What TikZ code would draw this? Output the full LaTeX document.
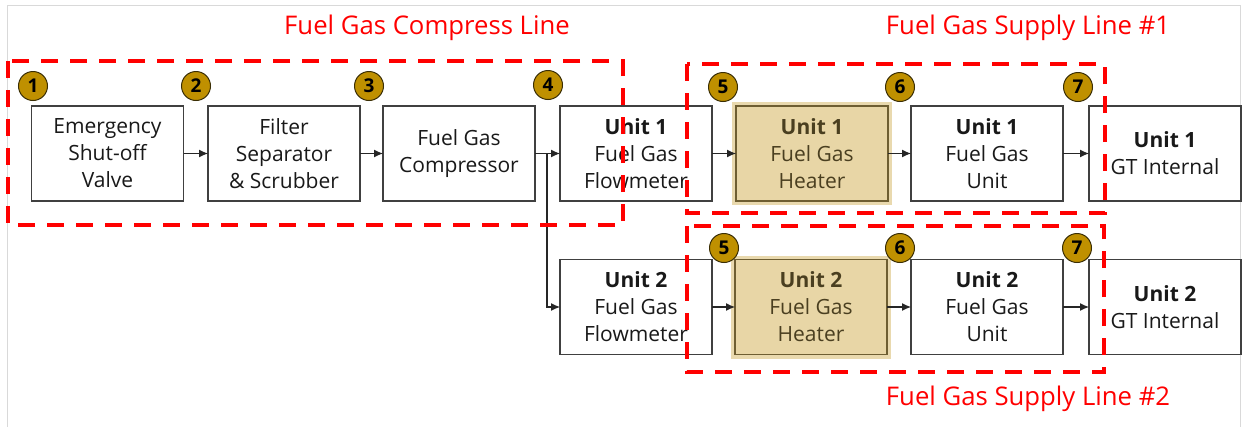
\documentclass[tikz,border=0pt]{standalone}
\usepackage{fontspec}
\setmainfont{Open Sans}
\usetikzlibrary{arrows.meta}
\definecolor{gold}{HTML}{BF9000}
\definecolor{goldline}{HTML}{3A2E05}
\definecolor{tan}{HTML}{E8D6A6}
\definecolor{glow}{HTML}{E9D9AE}
\definecolor{olive}{HTML}{6E5E32}
\definecolor{olivetext}{HTML}{4A3F20}
\definecolor{boxline}{HTML}{404040}
\definecolor{frame}{HTML}{D9D9D9}
\tikzset{
  every node/.style={inner sep=0pt, outer sep=0pt},
  box/.style={draw=boxline, line width=1.3pt, fill=white, minimum width=152pt, minimum height=95pt,
    align=center, font=\fontsize{21}{27}\selectfont, text=black!90},
  heater/.style={box, fill=tan, draw=olive, text=olivetext,
    preaction={draw=glow, line width=8pt}},
  num/.style={circle, fill=gold, draw=goldline, line width=1pt, minimum size=29pt,
    font=\fontsize{19}{19}\selectfont\bfseries, text=black},
  flow/.style={draw=black!85, line width=1.1pt, -{Latex[length=9pt,width=8pt]}},
  zone/.style={draw=red, line width=3.6pt, dash pattern=on 17pt off 12pt},
  ztitle/.style={text=red, font=\fontsize{25.7}{25.7}\selectfont},
}
\begin{document}
\begin{tikzpicture}[x=1pt,y=-1pt]
\useasboundingbox (0,0) rectangle (1243,426);
\fill[white] (0,0) rectangle (1243,426);
\draw[frame, line width=1pt] (7,430) -- (7,5) -- (1240,5) -- (1240,430);

% top row
\node[box] (esv) at (107.5,153.5) {Emergency\\Shut-off\\Valve};
\node[box] (fss) at (284,153.5) {Filter\\Separator\\\& Scrubber};
\node[box] (fgc) at (459,153.5) {Fuel Gas\\Compressor};
\node[box] (fm1) at (636,153.5) {\textbf{Unit 1}\\Fuel Gas\\Flowmeter};
\node[heater] (ht1) at (812,153.5) {\textbf{Unit 1}\\Fuel Gas\\Heater};
\node[box] (fu1) at (987,153.5) {\textbf{Unit 1}\\Fuel Gas\\Unit};
\node[box] (gt1) at (1165,153.5) {\textbf{Unit 1}\\GT Internal};

% bottom row
\node[box] (fm2) at (636,307) {\textbf{Unit 2}\\Fuel Gas\\Flowmeter};
\node[heater] (ht2) at (811,307) {\textbf{Unit 2}\\Fuel Gas\\Heater};
\node[box] (fu2) at (987,307) {\textbf{Unit 2}\\Fuel Gas\\Unit};
\node[box] (gt2) at (1165,307) {\textbf{Unit 2}\\GT Internal};

% connectors
\draw[flow] (esv) -- (fss);
\draw[flow] (fss) -- (fgc);
\draw[flow] (fgc) -- (fm1);
\coordinate (br) at (547,153.5);
\draw[flow] (br) |- (fm2.west);
\draw[flow] (fm1) -- (ht1);
\draw[flow] (ht1) -- (fu1);
\draw[flow] (fu1) -- (gt1);
\draw[flow] (fm2) -- (ht2);
\draw[flow] (ht2) -- (fu2);
\draw[flow] (fu2) -- (gt2);

% zones
\draw[zone] (8,61) rectangle (623,225);
\draw[zone] (687,64) rectangle (1105,213);
\draw[zone] (687,226) rectangle (1104,372);

% zone titles
\node[ztitle] (t1) at (427,28) {Fuel Gas Compress Line};
\node[ztitle] (t2) at (1028,28) {Fuel Gas Supply Line \#1};
\node[ztitle] (t3) at (1028,399) {Fuel Gas Supply Line \#2};

% numbered markers
\node[num] (n1) at (33,86) {1};
\node[num] (n2) at (196,86) {2};
\node[num] (n3) at (369,86) {3};
\node[num] (n4) at (548,85) {4};
\node[num] (n5) at (723,87) {5};
\node[num] (n6) at (900,87) {6};
\node[num] (n7) at (1078,87) {7};
\node[num] (m5) at (724,248) {5};
\node[num] (m6) at (900,248) {6};
\node[num] (m7) at (1077,248) {7};
\end{tikzpicture}
\end{document}
